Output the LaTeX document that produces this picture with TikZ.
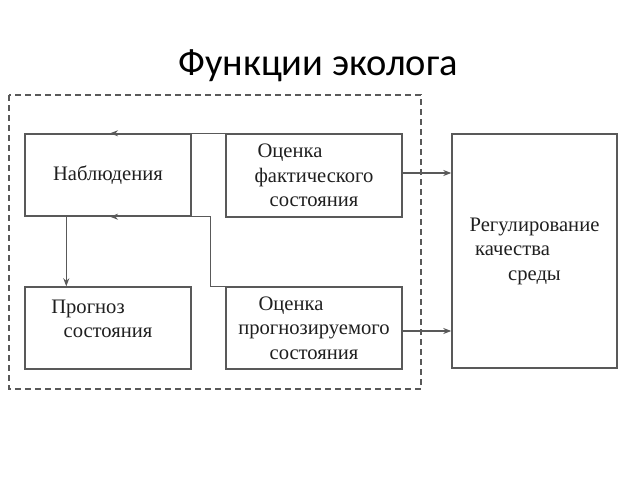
\documentclass[tikz,border=0pt]{standalone}
\usepackage{fontspec}
\setmainfont{Liberation Serif}
\newfontfamily\titlefont{Carlito}
\usepackage{tikz}
\usetikzlibrary{calc}
\usetikzlibrary{arrows.meta}
\definecolor{linegray}{gray}{0.35}
\definecolor{textgray}{gray}{0.12}
\tikzset{
	box/.style={draw=linegray, line width=1.4pt, inner sep=0pt},
	boxtext/.style={text=textgray, align=center, font=\fontsize{20.6}{24.5}\selectfont},
	link/.style={draw=linegray, line width=1.2pt, -{Stealth[length=8pt,width=6pt,inset=2.5pt]}},
}

\begin{document}
\begin{tikzpicture}[x=1pt,y=-1pt]
		\useasboundingbox (0,0) rectangle (638,479);
		\node[anchor=base, inner sep=0pt, font=\titlefont\fontsize{38.5}{42}\selectfont] (title) at (318,75) {Функции эколога};
		\draw[linegray, line width=1.3pt, dash pattern=on 6pt off 4pt] (9,95) rectangle (421,389);
		% boxes
		\node[box, minimum width=166pt, minimum height=82pt] (nab) at (108,175) {};
		\node[box, minimum width=176pt, minimum height=83pt] (ocf) at (314,175.5) {};
		\node[box, minimum width=166pt, minimum height=82pt] (prog) at (108,328) {};
		\node[box, minimum width=176pt, minimum height=82pt] (ocp) at (314,328) {};
		\node[box, minimum width=165pt, minimum height=234pt] (reg) at (534.5,251) {};
		% texts
		\node[boxtext] (nabt) at (nab) {Наблюдения};
		\node[boxtext] (ocft) at (ocf) {Оценка\hspace*{48pt}\\фактического\\состояния};
		\node[boxtext] (progt) at ($(prog)+(0,-9)$) {Прогноз\hspace*{40pt}\\состояния};
		\node[boxtext] (ocpt) at (ocp) {Оценка\hspace*{46pt}\\прогнозируемого\\состояния};
		\node[boxtext] (regt) at (reg) {Регулирование\\\hspace*{-44pt}качества\\среды};
		% connectors
		\draw[link] (ocf.north west) -- ($(nab.north)+(2,0)$);
		\draw[link] (ocp.north west) -- ++(-15,0) |- ($(nab.south)+(2,0)$);
		\draw[link] ([xshift=42pt]nab.south west) -- ([xshift=42pt]prog.north west);
		\draw[link] (ocf.east |- 0,173) -- (reg.west |- 0,173);
		\draw[link] (ocp.east |- 0,331) -- (reg.west |- 0,331);
	\end{tikzpicture}
\end{document}
